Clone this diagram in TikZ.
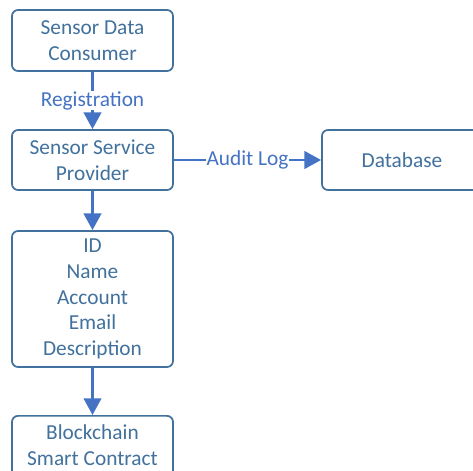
\documentclass[tikz,border=0pt]{standalone}
\usepackage{fontspec}
\setmainfont{Carlito}
\usetikzlibrary{arrows.meta}
\definecolor{boxline}{HTML}{41719C}
\definecolor{boxtext}{HTML}{41719C}
\definecolor{flow}{HTML}{4472C4}
\tikzset{
  px/.style={x=0.75pt,y=-0.75pt},
  card/.style={draw=boxline, line width=1.3pt, rounded corners=4.5pt, fill=white,
    text=boxtext, align=center, inner sep=0pt,
    font=\fontsize{16}{19.3}\selectfont},
  flowline/.style={draw=flow, line width=2.2pt,
    -{Triangle[length=12.5pt,width=13pt]}},
  flowlabel/.style={text=flow, fill=white, inner sep=0.5pt,
    font=\fontsize{16}{19.3}\selectfont}
}
\begin{document}
\begin{tikzpicture}[px]
\useasboundingbox (0,0) rectangle (473,470);
\clip (0,0) rectangle (473,470);
\node[card, minimum width=161*0.75pt, minimum height=61*0.75pt] (consumer) at (92.5,40.5) {Sensor Data\\Consumer};
\node[card, minimum width=161*0.75pt, minimum height=60*0.75pt] (provider) at (92.5,160) {Sensor Service\\Provider};
\node[card, minimum width=160*0.75pt, minimum height=60*0.75pt] (database) at (402,160) {Database};
\node[card, minimum width=161*0.75pt, minimum height=136*0.75pt] (fields) at (92.5,299) {ID\\Name\\Account\\Email\\Description};
\node[card, minimum width=161*0.75pt, minimum height=86*0.75pt, anchor=north] (chain) at (92.5,415) {};
\node[text=boxtext, align=center, font=\fontsize{16}{19.3}\selectfont] (chaintext) at (92.5,445) {Blockchain\\Smart Contract};
\draw[flowline] (consumer) -- node[flowlabel] {Registration} (provider);
\draw[flowline] (provider) -- node[flowlabel, pos=0.5] {Audit Log} (database);
\draw[flowline] (provider) -- (fields);
\draw[flowline] (fields) -- (chain);
\end{tikzpicture}
\end{document}
